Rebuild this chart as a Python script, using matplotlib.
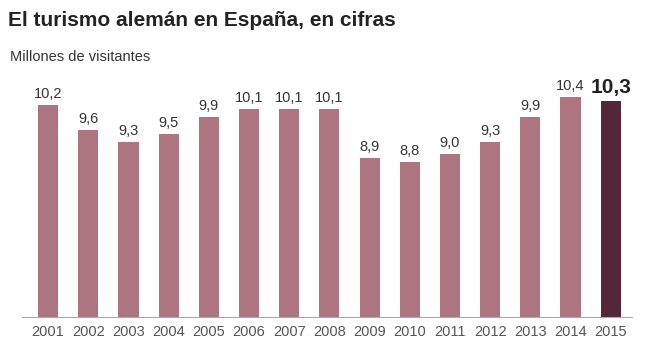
import matplotlib.pyplot as plt
from matplotlib import font_manager

years = ["2001", "2002", "2003", "2004", "2005", "2006", "2007", "2008",
         "2009", "2010", "2011", "2012", "2013", "2014", "2015"]
visitors = [10.2, 9.6, 9.3, 9.5, 9.9, 10.1, 10.1, 10.1,
            8.9, 8.8, 9.0, 9.3, 9.9, 10.4, 10.3]

names = {f.name for f in font_manager.fontManager.ttflist}
narrow = "Liberation Sans Narrow" if "Liberation Sans Narrow" in names else "Liberation Sans"
plt.rcParams["font.family"] = [narrow, "DejaVu Sans"]

fig = plt.figure(figsize=(6.64, 3.62), dpi=100)
ax = fig.add_axes([22 / 664, 1 - 317 / 362, 610 / 664, 237 / 362])

x = list(range(len(years)))
colors = ["#ac7580"] * (len(years) - 1) + ["#532638"]
ax.bar(x, visitors, width=0.5, color=colors)

for i, v in enumerate(visitors):
    lbl = f"{v:.1f}".replace(".", ",")
    if i == len(years) - 1:
        ax.text(i, v + 0.1, lbl, ha="center", va="bottom", fontsize=15,
                fontweight="bold", color="#222222")
    else:
        ax.text(i, v + 0.1, lbl, ha="center", va="bottom", fontsize=10.5,
                color="#333333")

ax.set_xlim(-0.65, 14.53)
ax.set_ylim(5, 10.82)
ax.set_xticks(x)
ax.set_xticklabels(years, fontsize=10.5, color="#555555")
ax.tick_params(axis="x", length=0, pad=6)
ax.set_yticks([])
for s in ["top", "right", "left"]:
    ax.spines[s].set_visible(False)
ax.spines["bottom"].set_color("#aaaaaa")

fig.text(8 / 664, 1 - 20 / 362, "El turismo alemán en España, en cifras",
         fontsize=15, fontweight="bold", color="#222222", va="center")
fig.text(10 / 664, 1 - 57 / 362, "Millones de visitantes",
         fontsize=10.5, color="#333333", va="center")

fig.savefig("out.png", dpi=100)
